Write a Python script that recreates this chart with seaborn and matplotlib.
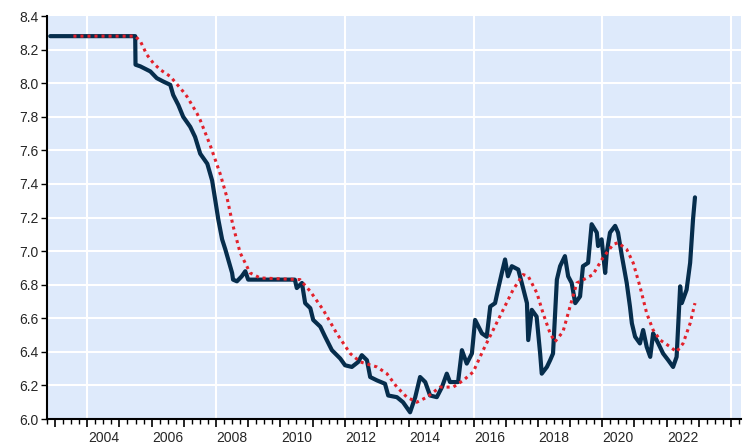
import matplotlib
matplotlib.use("Agg")
import matplotlib.pyplot as plt
import seaborn as sns
import numpy as np
import pandas as pd

# -----------------------------------
# Data (decimal years, CNY per USD)
# -----------------------------------
spot_t = [2002.85, 2005.49, 2005.50, 2005.65, 2005.96, 2006.16, 2006.36, 2006.58, 2006.67,
          2006.83, 2006.98, 2007.20, 2007.35, 2007.51, 2007.73, 2007.88, 2007.98, 2008.07,
          2008.19, 2008.29, 2008.38, 2008.50, 2008.53, 2008.65, 2008.80, 2008.91, 2009.00,
          2009.30, 2009.60, 2010.00, 2010.45, 2010.51, 2010.67, 2010.77, 2010.93, 2011.02,
          2011.24, 2011.39, 2011.60, 2011.86, 2012.01, 2012.22, 2012.42, 2012.53, 2012.69,
          2012.79, 2013.00, 2013.25, 2013.35, 2013.62, 2013.81, 2014.03, 2014.19, 2014.34,
          2014.50, 2014.65, 2014.86, 2015.02, 2015.17, 2015.27, 2015.52, 2015.64, 2015.79,
          2015.95, 2016.05, 2016.26, 2016.41, 2016.52, 2016.67, 2016.76, 2016.88, 2016.98,
          2017.07, 2017.19, 2017.39, 2017.50, 2017.66, 2017.70, 2017.81, 2017.96, 2018.07,
          2018.12, 2018.28, 2018.38, 2018.47, 2018.59, 2018.69, 2018.84, 2018.94, 2019.05,
          2019.16, 2019.31, 2019.40, 2019.56, 2019.67, 2019.83, 2019.87, 2019.98, 2020.09,
          2020.14, 2020.24, 2020.40, 2020.49, 2020.61, 2020.76, 2020.86, 2020.92, 2021.02,
          2021.17, 2021.27, 2021.38, 2021.49, 2021.58, 2021.74, 2021.89, 2022.05, 2022.20,
          2022.31, 2022.42, 2022.47, 2022.62, 2022.73, 2022.82, 2022.88]
spot_v = [8.28, 8.28, 8.11, 8.10, 8.07, 8.03, 8.01, 7.99, 7.93,
          7.87, 7.80, 7.74, 7.68, 7.58, 7.52, 7.42, 7.30, 7.19,
          7.07, 7.01, 6.95, 6.87, 6.83, 6.82, 6.85, 6.88, 6.83,
          6.83, 6.83, 6.83, 6.83, 6.78, 6.81, 6.69, 6.66, 6.59,
          6.55, 6.49, 6.41, 6.36, 6.32, 6.31, 6.34, 6.38, 6.35,
          6.25, 6.23, 6.21, 6.14, 6.13, 6.10, 6.04, 6.13, 6.25,
          6.22, 6.14, 6.13, 6.19, 6.27, 6.22, 6.22, 6.41, 6.33,
          6.39, 6.59, 6.51, 6.49, 6.67, 6.69, 6.77, 6.87, 6.95,
          6.85, 6.91, 6.89, 6.81, 6.69, 6.47, 6.65, 6.61, 6.39,
          6.27, 6.31, 6.35, 6.39, 6.83, 6.91, 6.97, 6.85, 6.81,
          6.69, 6.73, 6.91, 6.93, 7.16, 7.11, 7.03, 7.07, 6.87,
          6.99, 7.11, 7.15, 7.11, 6.97, 6.81, 6.67, 6.57, 6.49,
          6.45, 6.53, 6.43, 6.37, 6.51, 6.45, 6.39, 6.35, 6.31,
          6.37, 6.79, 6.69, 6.77, 6.93, 7.19, 7.32]

ma_t = [2003.57, 2005.49, 2005.65, 2005.85, 2006.05, 2006.27, 2006.58, 2006.67, 2006.98,
        2007.10, 2007.41, 2007.51, 2007.82, 2008.13, 2008.34, 2008.53, 2008.75, 2009.06,
        2009.37, 2010.61, 2010.93, 2011.33, 2011.75, 2012.17, 2012.48, 2013.00, 2013.31,
        2013.62, 2013.93, 2014.24, 2014.55, 2014.96, 2015.37, 2015.68, 2015.99, 2016.30,
        2016.61, 2016.92, 2017.23, 2017.54, 2017.70, 2017.97, 2018.16, 2018.38, 2018.53,
        2018.78, 2019.00, 2019.21, 2019.52, 2019.71, 2020.02, 2020.34, 2020.49, 2020.76,
        2020.96, 2021.17, 2021.38, 2021.58, 2021.80, 2022.11, 2022.31, 2022.51, 2022.73,
        2022.88]
ma_v = [8.28, 8.28, 8.25, 8.17, 8.12, 8.08, 8.04, 8.02, 7.95,
        7.92, 7.82, 7.78, 7.63, 7.46, 7.32, 7.15, 6.99, 6.87,
        6.84, 6.83, 6.76, 6.65, 6.51, 6.39, 6.34, 6.31, 6.27,
        6.19, 6.13, 6.10, 6.13, 6.19, 6.19, 6.23, 6.28, 6.41,
        6.53, 6.65, 6.77, 6.86, 6.85, 6.75, 6.63, 6.51, 6.46,
        6.52, 6.67, 6.81, 6.84, 6.86, 6.96, 7.04, 7.05, 7.01,
        6.93, 6.79, 6.63, 6.53, 6.47, 6.43, 6.40, 6.45, 6.57,
        6.69]

year_labels = [2004, 2006, 2008, 2010, 2012, 2014, 2016, 2018, 2020, 2022]
y_ticks = [6.0, 6.2, 6.4, 6.6, 6.8, 7.0, 7.2, 7.4, 7.6, 7.8, 8.0, 8.2, 8.4]

df_spot = pd.DataFrame({"t": spot_t, "v": spot_v})
df_ma = pd.DataFrame({"t": ma_t, "v": ma_v})

# -----------------------------------
# Style
# -----------------------------------
sns.set_style("white", rc={"axes.facecolor": "#deeafb"})
plt.rcParams["font.family"] = ["Liberation Sans", "DejaVu Sans"]

fig = plt.figure(figsize=(7.51, 4.47), dpi=100)
ax = fig.add_axes([47 / 751, 28 / 447, 694 / 751, 403 / 447])

sns.lineplot(data=df_spot, x="t", y="v", ax=ax, color="#062d4c", linewidth=3.0,
             estimator=None, sort=False)
sns.lineplot(data=df_ma, x="t", y="v", ax=ax, color="#e3212b", linewidth=2.2,
             linestyle=(0, (1, 1.3)), estimator=None, sort=False)

ax.set_xlim(2002.758, 2024.31)
ax.set_ylim(6.0, 8.4)
ax.set_xlabel("")
ax.set_ylabel("")

# grid: white, every 0.2 on y and every 4 years on x
for yv in y_ticks[1:-1]:
    ax.axhline(yv, color="white", linewidth=1.5, zorder=0.5)
for xv in [2004, 2008, 2012, 2016, 2020, 2024]:
    ax.axvline(xv, color="white", linewidth=1.5, zorder=0.5)

ax.set_yticks(y_ticks)
ax.set_yticklabels([f"{v:.1f}" for v in y_ticks])
ax.set_xticks(np.arange(2003, 2025))
ax.set_xticklabels([])
ax.set_xticks(np.arange(2002.75, 2024.3, 0.25), minor=True)
ax.tick_params(axis="x", which="major", direction="out", length=6, width=1.2,
               color="black", bottom=True)
ax.tick_params(axis="x", which="minor", direction="out", length=3.5, width=1.0,
               color="black", bottom=True)
ax.tick_params(axis="y", which="major", direction="out", length=4, width=1.0,
               color="black", left=True, labelsize=10, pad=2)

# year labels sit in the middle of each labelled year
for yr in year_labels:
    ax.annotate(str(yr), xy=(yr + 0.5, 0), xycoords=ax.get_xaxis_transform(),
                xytext=(0, -9), textcoords="offset points",
                ha="center", va="top", fontsize=10)

for side in ["top", "right"]:
    ax.spines[side].set_visible(False)
for side in ["left", "bottom"]:
    ax.spines[side].set_color("black")
    ax.spines[side].set_linewidth(1.5)

fig.savefig("out.png", dpi=100)
